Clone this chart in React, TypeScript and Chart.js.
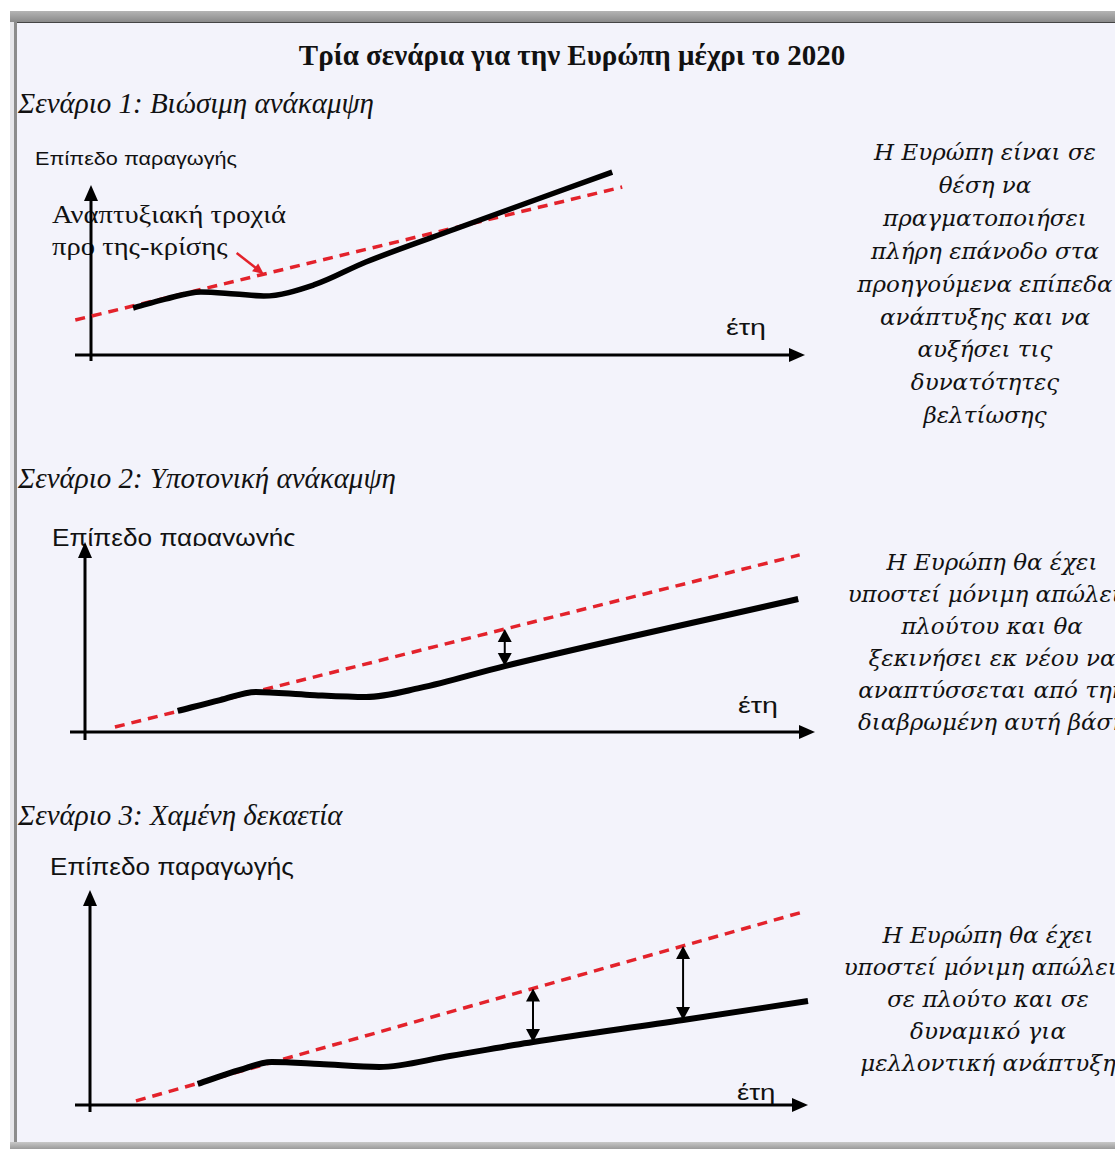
import React, { useEffect, useRef } from "react";
import { Chart, registerables } from "chart.js";
Chart.register(...registerables);

const RED = "#e3222b";
const BG = "#f3f3fb";
const SERIF = "'Liberation Serif', 'Times New Roman', serif";
const SANS = "'Liberation Sans', Arial, sans-serif";
const BOOK = "'DejaVu Serif', serif";

// ---------- data (conceptual units: years 0..100 on x, output level 0..100 on y) ----------
// Scenario 1
const s1TrendX = [-2.2, 74.4];
const s1TrendY = [20.6, 98.8];
const s1OutputX = [5.9, 10.4, 15.4, 20.2, 24.2, 31.2, 38.5, 51.0, 73.0];
const s1OutputY = [27.6, 32.9, 37.1, 35.9, 34.7, 41.2, 54.7, 74.1, 107.6];
const s1PointerX = [20.4, 24.2];
const s1PointerY = [60.0, 47.6];
// Scenario 2
const s2TrendX = [4.1, 97.9];
const s2TrendY = [2.6, 93.2];
const s2OutputX = [12.7, 18.5, 23.4, 30.8, 38.5, 45.9, 57.5, 97.7];
const s2OutputY = [11.1, 16.8, 21.1, 19.5, 18.4, 23.2, 34.7, 70.0];
const s2GapX = [57.5];
const s2GapLow = [34.7];
const s2GapHigh = [54.2];
// Scenario 3
const s3TrendX = [6.4, 99.3];
const s3TrendY = [1.9, 89.8];
const s3OutputX = [15.0, 20.9, 25.3, 32.0, 40.3, 50.1, 61.7, 82.6, 100.0];
const s3OutputY = [9.8, 16.3, 20.0, 19.1, 17.7, 22.8, 29.3, 39.5, 48.4];
const s3GapX = [61.7, 82.6];
const s3GapLow = [29.3, 39.5];
const s3GapHigh = [54.2, 74.0];

const TITLE = "Τρία σενάρια για την Ευρώπη μέχρι το 2020";
const SCEN = [
  "Σενάριο 1: Βιώσιμη ανάκαμψη",
  "Σενάριο 2: Υποτονική ανάκαμψη",
  "Σενάριο 3: Χαμένη δεκαετία",
];
const Y_LABEL = "Επίπεδο παραγωγής";
const X_LABEL = "έτη";
const ANNOT = ["Αναπτυξιακή τροχιά", "προ της-κρίσης"];
const NOTE1 = [
  "Η Ευρώπη είναι σε",
  "θέση να",
  "πραγματοποιήσει",
  "πλήρη επάνοδο στα",
  "προηγούμενα επίπεδα",
  "ανάπτυξης και να",
  "αυξήσει τις",
  "δυνατότητες",
  "βελτίωσης",
];
const NOTE2 = [
  "Η Ευρώπη θα έχει",
  "υποστεί μόνιμη απώλεια",
  "πλούτου και θα",
  "ξεκινήσει εκ νέου να",
  "αναπτύσσεται από την",
  "διαβρωμένη αυτή βάση",
];
const NOTE3 = [
  "Η Ευρώπη θα έχει",
  "υποστεί μόνιμη απώλεια",
  "σε πλούτο και σε",
  "δυναμικό για",
  "μελλοντική ανάπτυξη",
];

const zip = (xs: number[], ys: number[]) => xs.map((x, i) => ({ x, y: ys[i] }));

function head(ctx: CanvasRenderingContext2D, tx: number, ty: number, dx: number, dy: number, len: number, half: number) {
  const bx = tx - dx * len;
  const by = ty - dy * len;
  ctx.beginPath();
  ctx.moveTo(tx, ty);
  ctx.lineTo(bx - dy * half, by + dx * half);
  ctx.lineTo(bx + dy * half, by - dx * half);
  ctx.closePath();
  ctx.fill();
}

const diagramPlugin = {
  id: "diagram",
  beforeDatasetsDraw(chart: any, _a: any, opts: any) {
    const ctx: CanvasRenderingContext2D = chart.ctx;
    const xs = chart.scales.x;
    const ys = chart.scales.y;
    const x0 = xs.getPixelForValue(0);
    const y0 = ys.getPixelForValue(0);
    const xe = xs.getPixelForValue(100);
    const ye = ys.getPixelForValue(100);
    ctx.save();
    ctx.strokeStyle = "#000";
    ctx.fillStyle = "#000";
    ctx.lineWidth = opts.axisWidth || 3;
    ctx.beginPath();
    ctx.moveTo(x0 - (opts.extLeft || 16), y0);
    ctx.lineTo(xe - 10, y0);
    ctx.moveTo(x0, y0 + (opts.extBelow || 7));
    ctx.lineTo(x0, ye + 10);
    ctx.stroke();
    head(ctx, xe, y0, 1, 0, 16, 7);
    head(ctx, x0, ye, 0, -1, 16, 7);
    ctx.restore();
  },
  afterDatasetsDraw(chart: any, _a: any, opts: any) {
    const ctx: CanvasRenderingContext2D = chart.ctx;
    const xs = chart.scales.x;
    const ys = chart.scales.y;
    ctx.save();
    const gx: number[] = opts.gapX || [];
    gx.forEach((g, i) => {
      const px = xs.getPixelForValue(g);
      const hi = ys.getPixelForValue(opts.gapHigh[i]);
      const lo = ys.getPixelForValue(opts.gapLow[i]);
      ctx.strokeStyle = "#000";
      ctx.fillStyle = "#000";
      ctx.lineWidth = 2;
      ctx.beginPath();
      ctx.moveTo(px, hi + 10);
      ctx.lineTo(px, lo - 10);
      ctx.stroke();
      head(ctx, px, hi, 0, -1, 13, 7);
      head(ctx, px, lo, 0, 1, 13, 7);
    });
    if (opts.pointerX) {
      const ax = xs.getPixelForValue(opts.pointerX[0]);
      const ay = ys.getPixelForValue(opts.pointerY[0]);
      const bx = xs.getPixelForValue(opts.pointerX[1]);
      const by = ys.getPixelForValue(opts.pointerY[1]);
      const d = Math.hypot(bx - ax, by - ay);
      const ux = (bx - ax) / d;
      const uy = (by - ay) / d;
      ctx.strokeStyle = RED;
      ctx.fillStyle = RED;
      ctx.lineWidth = 2.5;
      ctx.beginPath();
      ctx.moveTo(ax, ay);
      ctx.lineTo(bx - ux * 8, by - uy * 8);
      ctx.stroke();
      head(ctx, bx, by, ux, uy, 11, 5);
    }
    ctx.restore();
  },
};

type ChartProps = {
  box: { left: number; top: number; width: number; height: number };
  pad: { left: number; right: number; top: number; bottom: number };
  trend: { x: number; y: number }[];
  output: { x: number; y: number }[];
  outputWidth: number;
  extLeft: number;
  extBelow: number;
  gapX?: number[];
  gapLow?: number[];
  gapHigh?: number[];
  pointerX?: number[];
  pointerY?: number[];
};

function ScenarioChart(p: ChartProps) {
  const ref = useRef<HTMLCanvasElement | null>(null);
  useEffect(() => {
    if (!ref.current) return;
    const chart = new Chart(ref.current, {
      type: "line",
      data: {
        datasets: [
          {
            label: "Παραγωγή",
            data: p.output,
            borderColor: "#000",
            borderWidth: p.outputWidth,
            pointRadius: 0,
            cubicInterpolationMode: "monotone",
            clip: false,
          } as any,
          {
            label: "Τροχιά προ της κρίσης",
            data: p.trend,
            borderColor: RED,
            borderWidth: 3.5,
            borderDash: [10, 7],
            pointRadius: 0,
            tension: 0,
            clip: false,
          } as any,
        ],
      },
      options: {
        responsive: false,
        animation: false,
        events: [],
        layout: { padding: p.pad },
        scales: {
          x: { type: "linear", min: 0, max: 100, display: false },
          y: { type: "linear", min: 0, max: 100, display: false },
        },
        plugins: {
          legend: { display: false },
          tooltip: { enabled: false },
          diagram: {
            extLeft: p.extLeft,
            extBelow: p.extBelow,
            gapX: p.gapX,
            gapLow: p.gapLow,
            gapHigh: p.gapHigh,
            pointerX: p.pointerX,
            pointerY: p.pointerY,
          },
        } as any,
      },
      plugins: [diagramPlugin as any],
    });
    return () => chart.destroy();
  }, []);
  return (
    <canvas
      ref={ref}
      width={p.box.width}
      height={p.box.height}
      style={{ position: "absolute", left: p.box.left, top: p.box.top, width: p.box.width, height: p.box.height }}
    />
  );
}

function T(props: { x: number; y: number; size: number; family: string; italic?: boolean; bold?: boolean; center?: boolean; text: string; sx?: number }) {
  const tr = `translate(${props.center ? "-50%" : "0"}, -50%)` + (props.sx ? ` scaleX(${props.sx})` : "");
  return (
    <div
      style={{
        position: "absolute",
        left: props.x,
        top: props.y,
        fontSize: props.size,
        lineHeight: `${props.size}px`,
        fontFamily: props.family,
        fontStyle: props.italic ? "italic" : "normal",
        fontWeight: props.bold ? "bold" : "normal",
        whiteSpace: "nowrap",
        color: "#111",
        transform: tr,
        transformOrigin: props.center ? "50% 50%" : "0 50%",
      }}
    >
      {props.text}
    </div>
  );
}

export default function App() {
  return (
    <div style={{ position: "absolute", left: 0, top: 0, width: 1115, height: 1149, overflow: "hidden", background: "#ffffff" }}>
      {/* frame */}
      <div style={{ position: "absolute", left: 10, top: 22, width: 1105, height: 1122, background: BG }} />
      <div style={{ position: "absolute", left: 10, top: 11, width: 1105, height: 11, background: "linear-gradient(#b4b4b4, #8a8a8a)", borderBottom: "1px solid #444" }} />
      <div style={{ position: "absolute", left: 10, top: 22, width: 4, height: 1127, background: "#e6e6ea" }} />
      <div style={{ position: "absolute", left: 14, top: 22, width: 3, height: 1127, background: "#8c8c8c" }} />
      <div style={{ position: "absolute", left: 10, top: 1142, width: 1105, height: 7, background: "linear-gradient(#c8c8c8, #9a9a9a)" }} />

      {/* titles */}
      <T x={572} y={55} size={29} family={SERIF} bold center text={TITLE} />
      <T x={18} y={103} size={29} family={SERIF} italic text={SCEN[0]} />
      <T x={18} y={478} size={29} family={SERIF} italic text={SCEN[1]} />
      <T x={18} y={815} size={29} family={SERIF} italic text={SCEN[2]} />

      {/* scenario 1 labels */}
      <T x={35} y={158} size={19} sx={1.14} family={SANS} text={Y_LABEL} />
      <T x={726} y={328} size={22} sx={1.3} family={SANS} text={X_LABEL} />
      <T x={52} y={215} size={26} sx={1.1} family={SERIF} text={ANNOT[0]} />
      <T x={52} y={247} size={26} sx={1.1} family={SERIF} text={ANNOT[1]} />

      {/* scenario 2 labels (lower edge hidden behind the chart panel, as in the source) */}
      <T x={52} y={538} size={24} sx={1.09} family={SANS} text={Y_LABEL} />
      <div style={{ position: "absolute", left: 40, top: 546, width: 300, height: 20, background: BG }} />
      <T x={738} y={706} size={22} sx={1.3} family={SANS} text={X_LABEL} />

      {/* scenario 3 labels */}
      <T x={50} y={867} size={24} sx={1.09} family={SANS} text={Y_LABEL} />
      <T x={737} y={1093} size={22} sx={1.25} family={SANS} text={X_LABEL} />

      {/* right notes */}
      {NOTE1.map((s, i) => (
        <T key={"a" + i} x={985} y={152 + i * 32.9} size={23} family={BOOK} italic center text={s} />
      ))}
      {NOTE2.map((s, i) => (
        <T key={"b" + i} x={992} y={562 + i * 32} size={23} family={BOOK} italic center text={s} />
      ))}
      {NOTE3.map((s, i) => (
        <T key={"c" + i} x={988} y={935 + i * 32} size={23} family={BOOK} italic center text={s} />
      ))}

      <ScenarioChart
        box={{ left: 30, top: 150, width: 800, height: 230 }}
        pad={{ left: 61, right: 25, top: 35, bottom: 25 }}
        trend={zip(s1TrendX, s1TrendY)}
        output={zip(s1OutputX, s1OutputY)}
        outputWidth={5.5}
        extLeft={16}
        extBelow={6}
        pointerX={s1PointerX}
        pointerY={s1PointerY}
      />
      <ScenarioChart
        box={{ left: 30, top: 520, width: 800, height: 240 }}
        pad={{ left: 55, right: 15, top: 22, bottom: 28 }}
        trend={zip(s2TrendX, s2TrendY)}
        output={zip(s2OutputX, s2OutputY)}
        outputWidth={6}
        extLeft={15}
        extBelow={8}
        gapX={s2GapX}
        gapLow={s2GapLow}
        gapHigh={s2GapHigh}
      />
      <ScenarioChart
        box={{ left: 30, top: 860, width: 800, height: 270 }}
        pad={{ left: 60, right: 22, top: 30, bottom: 25 }}
        trend={zip(s3TrendX, s3TrendY)}
        output={zip(s3OutputX, s3OutputY)}
        outputWidth={6}
        extLeft={15}
        extBelow={7}
        gapX={s3GapX}
        gapLow={s3GapLow}
        gapHigh={s3GapHigh}
      />
    </div>
  );
}
